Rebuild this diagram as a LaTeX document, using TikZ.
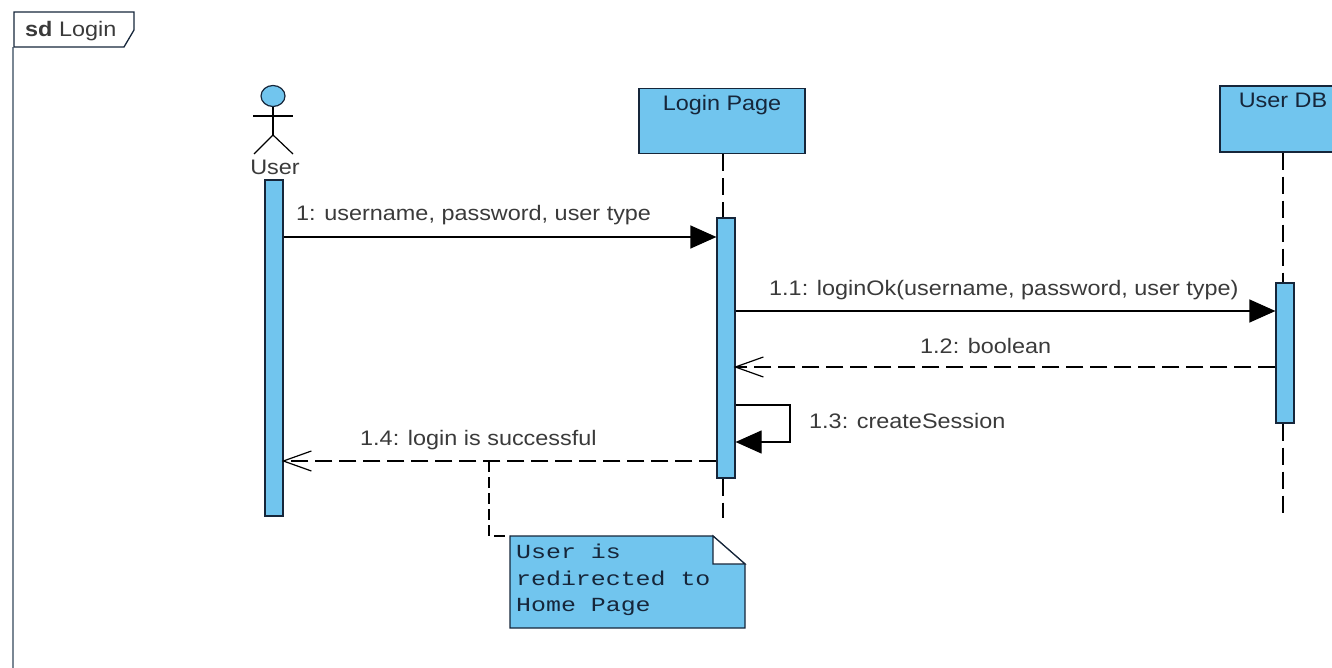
\documentclass[tikz,border=0pt]{standalone}
\usepackage{fontspec}
\usepackage{xcolor}
\usetikzlibrary{arrows.meta,shapes.geometric}
\setmainfont[FakeStretch=1.115]{Liberation Sans}
\newfontfamily\notefont[FakeStretch=1.245]{Liberation Mono}
\definecolor{umlblue}{HTML}{71C5EE}
\definecolor{umlink}{HTML}{16263A}
\definecolor{umltext}{HTML}{3A3A3A}
\definecolor{umlframe}{HTML}{7A8794}
\tikzset{
    headbox/.style={shape=rectangle,draw=umlink,fill=umlblue,line width=1.2pt,inner sep=0pt},
    headtext/.style={anchor=north,text=umlink,font=\fontsize{21}{24}\selectfont,inner sep=0pt,yshift=-7pt},
    activebar/.style={shape=rectangle,draw=umlink,fill=umlblue,line width=1.2pt,inner sep=0pt,minimum width=18pt},
    msgtext/.style={anchor=west,text=umltext,font=\fontsize{21}{24}\selectfont,inner sep=0pt},
    lifeline/.style={line width=1.3pt,dash pattern=on 17pt off 7pt},
    syncmsg/.style={line width=1.2pt,-{Triangle[length=26pt,width=23pt]}},
    replymsg/.style={line width=1.2pt,dash pattern=on 17pt off 7pt,shorten >=-2pt,-{Straight Barb[length=28pt,width=20pt]}}
}
\begin{document}
\begin{tikzpicture}[x=1pt,y=-1pt]
    \useasboundingbox (0,0) rectangle (1332,668);
    \clip (0,0) rectangle (1332,668);

    % frame and its tag
    \coordinate (framebase) at (13,668);
    \coordinate (frametop) at (13,47);
    \draw[umlframe,line width=1.6pt] (frametop) -- (framebase);
    \node[inner sep=0pt,anchor=west,text=umltext,font=\fontsize{21}{24}\selectfont] (frametag) at (25,31) {\textbf{sd} Login};
    \draw[umlink,line width=1.3pt] (14,12) -- (134,12) -- (134,30) -- (124,47) -- (14,47) -- cycle;

    % actor
    \node[shape=ellipse,draw=umlink,fill=umlblue,line width=1.2pt,minimum width=24pt,minimum height=21pt,inner sep=0pt] (userhead) at (273,96) {};
    \coordinate (userhip) at (273,135);
    \coordinate (userarml) at (253,116);
    \coordinate (userarmr) at (293,116);
    \coordinate (userlegl) at (254,154);
    \coordinate (userlegr) at (293,154);
    \draw[line width=1.2pt] (userhead) -- (userhip);
    \draw[line width=1.2pt] (userarml) -- (userarmr);
    \draw[line width=1.2pt] (userlegl) -- (userhip) -- (userlegr);
    \node[inner sep=0pt,text=umltext,font=\fontsize{21}{24}\selectfont] (userlabel) at (275,167) {User};

    % heads
    \node[headbox,minimum width=166pt,minimum height=65pt,label={[headtext]north:Login Page}] (loginpage) at (722,121) {};
    \node[headbox,minimum width=126pt,minimum height=66pt,label={[headtext]north:User DB}] (userdb) at (1283,119) {};

    % activation bars
    \node[activebar,minimum height=336pt] (userbar) at (274,348) {};
    \node[activebar,minimum height=260pt] (loginbar) at (726,348) {};
    \node[activebar,minimum height=140pt] (dbbar) at (1285,353) {};

    % lifelines
    \coordinate (loginend) at (723,518);
    \coordinate (dbend) at (1283,518);
    \draw[lifeline] (loginpage.south -| loginend) -- (loginbar.north -| loginend);
    \draw[lifeline] (loginbar.south -| loginend) -- (loginend);
    \draw[lifeline] (userdb.south -| dbend) -- (dbbar.north -| dbend);
    \draw[lifeline] (dbbar.south -| dbend) -- (dbend);

    % messages
    \coordinate (msga) at (500,237);
    \coordinate (msgb) at (1000,311);
    \coordinate (msgc) at (1000,367);
    \coordinate (msgd) at (790,405);
    \coordinate (msge) at (790,442);
    \coordinate (msgf) at (500,461);
    \draw[syncmsg] (userbar.east |- msga) -- (loginbar.west |- msga);
    \draw[syncmsg] (loginbar.east |- msgb) -- (dbbar.west |- msgb);
    \draw[replymsg] (dbbar.west |- msgc) -- (loginbar.east |- msgc);
    \draw[syncmsg] (loginbar.east |- msgd) -- (msgd) -- (msge) -- (loginbar.east |- msge);
    \draw[replymsg] (loginbar.west |- msgf) -- (userbar.east |- msgf);

    \node[msgtext] (labela) at (296,215) {1: username, password, user type};
    \node[msgtext] (labelb) at (769,290) {1.1: loginOk(username, password, user type)};
    \node[msgtext] (labelc) at (920,346) {1.2: boolean};
    \node[msgtext] (labeld) at (809,421) {1.3: createSession};
    \node[msgtext] (labele) at (360,440) {1.4: login is successful};

    % note
    \coordinate (notelink) at (489,461);
    \coordinate (notea) at (510,536);
    \coordinate (noteb) at (713,536);
    \coordinate (notec) at (745,564);
    \coordinate (noted) at (745,628);
    \coordinate (notee) at (510,628);
    \coordinate (notef) at (713,564);
    \draw[line width=1.1pt,dash pattern=on 11pt off 5pt] (notelink) |- (notea);
    \draw[umlink,fill=umlblue,line width=1.3pt] (notea) -- (noteb) -- (notec) -- (noted) -- (notee) -- cycle;
    \draw[umlink,fill=white,line width=1.2pt] (noteb) -- (notef) -- (notec) -- cycle;
    \node[anchor=north west,inner sep=0pt,align=left,text=umlink,font=\notefont\fontsize{20}{26.5}\selectfont] (notetext) at (516,544) {User is\\redirected to\\Home Page};
\end{tikzpicture}
\end{document}
